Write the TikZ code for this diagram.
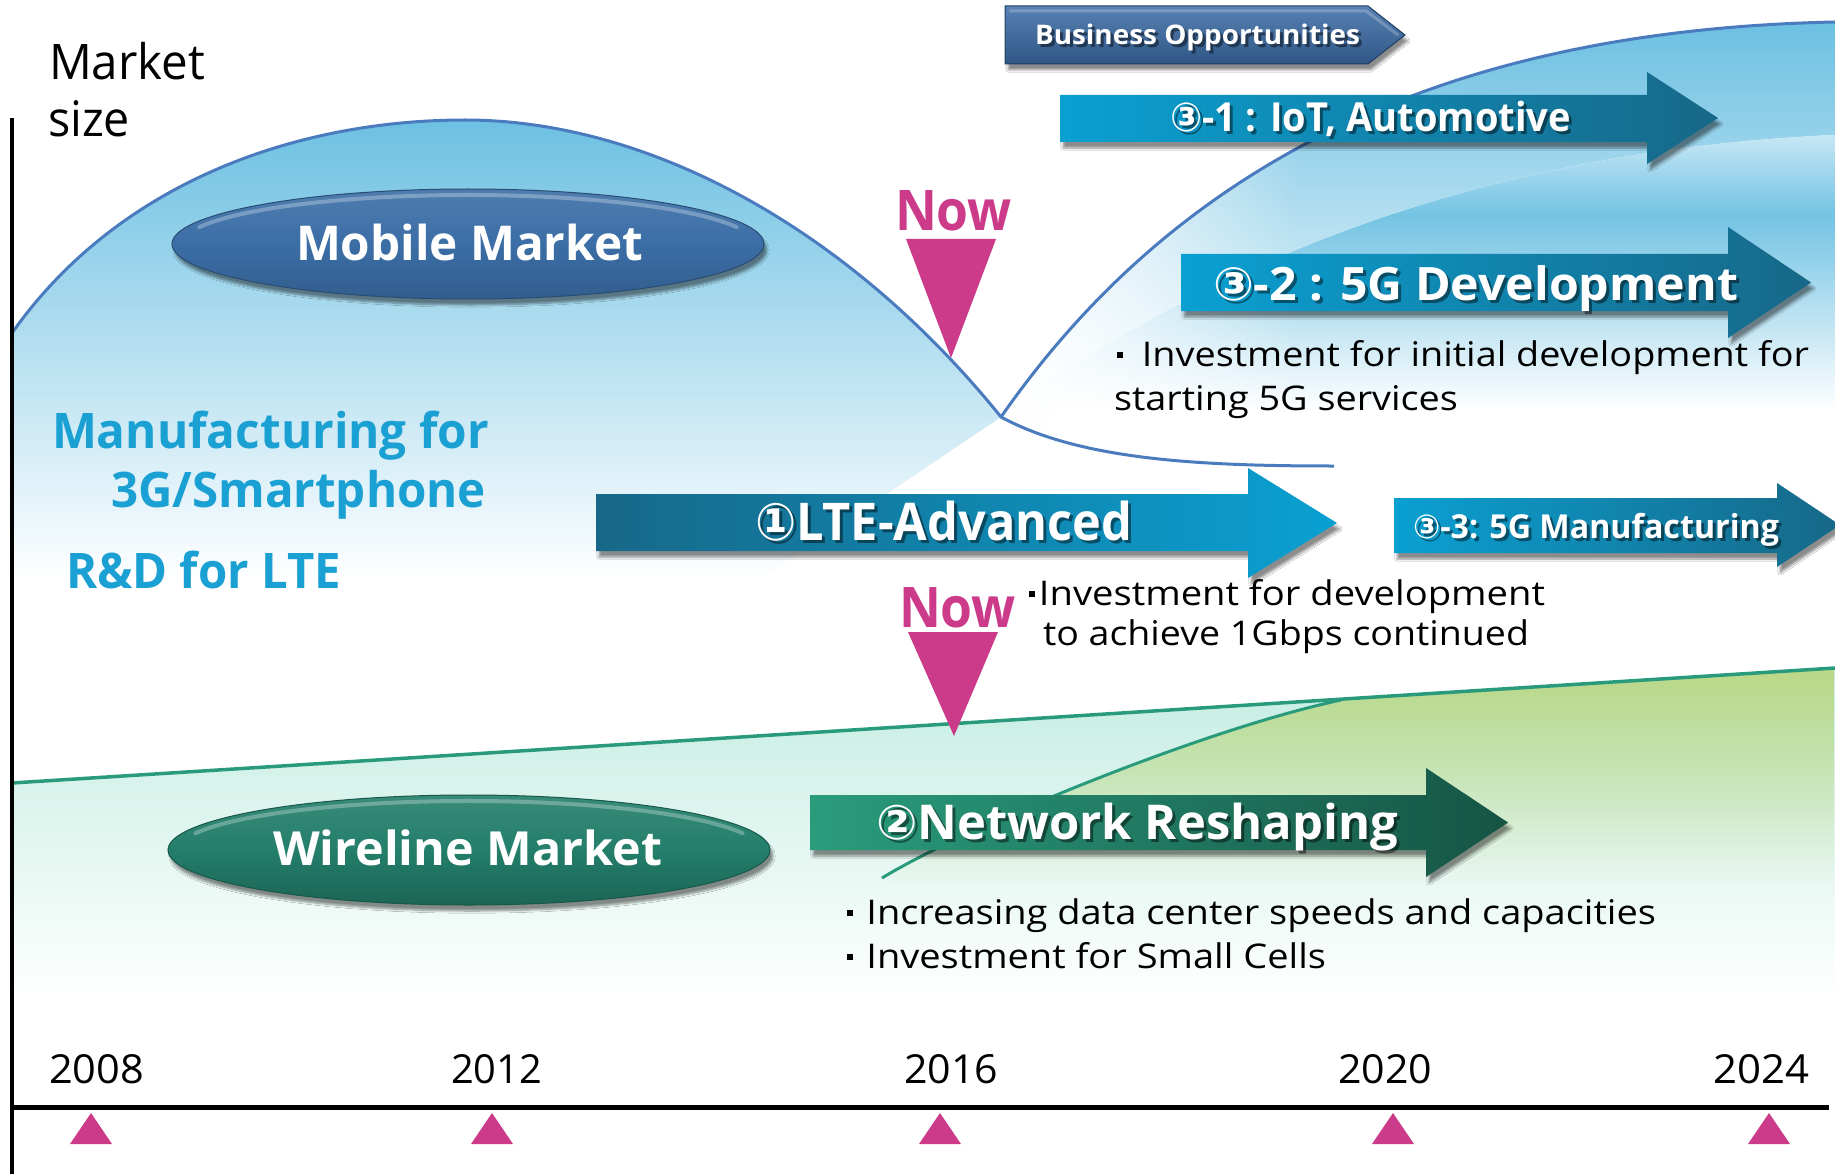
\documentclass[tikz,border=0pt]{standalone}
\usepackage{fontspec}
\usepackage{graphicx}
\setmainfont{Open Sans}
\newfontfamily\circfont{DejaVu Sans}
\usetikzlibrary{shapes.geometric,shadows.blur,fadings}

\definecolor{skyfill}{HTML}{6CC0E2}
\definecolor{curveblue}{HTML}{4A7BBE}
\definecolor{nowpink}{HTML}{CC3B8A}
\definecolor{labelblue}{HTML}{1BA0D3}
\definecolor{cyanL}{HTML}{0AA0D2}
\definecolor{cyanD}{HTML}{176888}
\definecolor{tealL}{HTML}{2A9C7C}
\definecolor{tealD}{HTML}{165444}
\definecolor{mint}{HTML}{C3EDE1}
\definecolor{lime}{HTML}{BAD886}
\definecolor{lineteal}{HTML}{2A9A7C}
\definecolor{mobileB}{HTML}{3B6EA6}
\definecolor{wireG}{HTML}{237E6A}
\definecolor{bizB}{HTML}{3A6BA6}

% fixed-width text, font size in pt
\newcommand\fitw[2]{\resizebox{#1pt}{\height}{#2}}
\newcommand\fsz[1]{\fontsize{#1}{#1}\selectfont}
\newcommand\cnum[1]{{\circfont #1}}
% small square bullet
\newcommand\bul{\rule[0.24em]{0.16em}{0.16em}}

\tikzset{
  txt/.style={inner sep=0pt, outer sep=0pt, anchor=base west},
  body/.style={txt, font=\fsz{34}},
  year/.style={txt, font=\fsz{40}},
  bluelabel/.style={txt, text=labelblue, font=\bfseries\fsz{49}},
  nowtxt/.style={txt, text=nowpink, font=\bfseries\fsz{56}},
  curve/.style={draw=curveblue, line width=3pt},
  softshadow/.style={blur shadow={shadow xshift=3pt, shadow yshift=-6pt,
      shadow blur steps=8, shadow opacity=45}},
  cyanright/.style={left color=cyanL, right color=cyanD},
  cyanleft/.style={left color=cyanD, right color=cyanL},
  tealright/.style={left color=tealL, right color=tealD},
  bevel/.style={white, opacity=.28, line width=4pt, line cap=round},
}

% block arrow: name, x-left, x-neck, x-tip, body top, body bottom, head top, head bottom, fill style
\newcommand\blockarrow[9]{%
  \path[#9, softshadow]
    (#2,#5) -- (#3,#5) -- (#3,#7) -- (#4,{(#7+#8)/2}) -- (#3,#8) -- (#3,#6) -- (#2,#6) -- cycle;
  \coordinate (#1) at ({(#2+#3)/2},{(#5+#6)/2});}

% white bold label with a dark offset copy: name, x, baseline, width, size, text
\newcommand\arrowlabel[6]{%
  \node[txt, text=black, opacity=.45, font=\bfseries\fsz{#5}] (#1-shade) at (#2+3,#3+3) {\fitw{#4}{#6}};
  \node[txt, text=white, font=\bfseries\fsz{#5}] (#1) at (#2,#3) {\fitw{#4}{#6}};}

\begin{document}
\begin{tikzpicture}[x=1pt,y=-1pt]
\useasboundingbox (0,0) rectangle (1835,1174);
\fill[white] (0,0) rectangle (1835,1174);

% ---------- mobile market area ----------
\begin{scope}
  \clip (12,333) .. controls (120,180) and (300,120) .. (465,120)
        .. controls (650,120) and (850,230) .. (1001,417) -- (640,660) -- (12,660) -- cycle;
  \shade[top color=skyfill, bottom color=white] (12,118) rectangle (1001,580);
\end{scope}

% ---------- 5G area ----------
\begin{scope}
  \clip (1001,417) .. controls (1180,160) and (1450,30) .. (1835,22) -- (1835,520) -- (1001,520) -- cycle;
  \shade[top color=skyfill, bottom color=white] (1001,22) rectangle (1835,430);
  \begin{scope}
    \clip (1050,380) .. controls (1250,250) and (1500,150) .. (1835,135) -- (1835,440) -- (1050,440) -- cycle;
    \fill[white] (1001,130) rectangle (1835,440);
    \shade[top color=skyfill!35, bottom color=skyfill!95] (1001,130) rectangle (1835,215);
    \shade[top color=skyfill!95, bottom color=white] (1001,215) rectangle (1835,410);
  \end{scope}
  \fill[white, path fading=east] (1001,22) rectangle (1300,520);
\end{scope}

% ---------- wireline area ----------
\begin{scope}
  \clip (12,783) -- (1835,668) -- (1835,1020) -- (12,1020) -- cycle;
  \shade[top color=mint, bottom color=white] (12,668) rectangle (1835,1000);
\end{scope}
\begin{scope}
  \clip (882,878) .. controls (960,830) and (1200,730) .. (1341,700) -- (1835,668) -- (1835,900) -- (882,900) -- cycle;
  \fill[lime, path fading=south] (882,668) rectangle (1835,885);
\end{scope}

% ---------- market curves ----------
\draw[lineteal, line width=3.5pt] (12,783) -- (1835,668);
\draw[lineteal, line width=3pt] (882,878) .. controls (960,830) and (1200,730) .. (1341,700);
\fill[nowpink] (906,239) -- (996,239) -- (951,358) -- cycle;
\draw[curve] (12,333) .. controls (120,180) and (300,120) .. (465,120)
      .. controls (650,120) and (850,230) .. (1001,417)
      .. controls (1080,460) and (1200,466) .. (1334,466);
\draw[curve] (1001,417) .. controls (1180,160) and (1450,30) .. (1835,22);

% ---------- axes ----------
\draw[line width=4.5pt] (12,118) -- (12,1174);
\draw[line width=5pt] (12,1107) -- (1829,1107);
\foreach \x in {91,492,940,1393,1769}
  \fill[nowpink] (\x,1113) -- (\x+21,1144) -- (\x-21,1144) -- cycle;

\node[year] (y2008) at (49,1083) {\fitw{95}{2008}};
\node[year] (y2012) at (451,1083) {\fitw{91}{2012}};
\node[year] (y2016) at (904,1083) {\fitw{94}{2016}};
\node[year] (y2020) at (1338,1083) {\fitw{94}{2020}};
\node[year] (y2024) at (1713,1083) {\fitw{96}{2024}};

\node[txt, font=\fsz{49}] (market) at (49,80) {\fitw{156}{Market}};
\node[txt, font=\fsz{49}] (size) at (48,137) {\fitw{82}{size}};

% ---------- market ellipses ----------
\node[ellipse, minimum width=592pt, minimum height=110pt, inner sep=0pt,
      top color=mobileB!90!white, bottom color=mobileB!85!black, middle color=mobileB,
      draw=mobileB!70!black, line width=1pt, softshadow] (mobile) at (468,244) {};
\draw[bevel] (468,244) ++(200:286 and 49) arc[start angle=200, end angle=340, x radius=286, y radius=49];
\node[txt, text=white, font=\bfseries\fsz{48}] (mobiletxt) at (296,261) {\fitw{347}{Mobile Market}};

\node[ellipse, minimum width=602pt, minimum height=110pt, inner sep=0pt,
      top color=wireG!90!white, bottom color=wireG!80!black, middle color=wireG,
      draw=wireG!70!black, line width=1pt, softshadow] (wireline) at (469,850) {};
\draw[bevel] (469,850) ++(200:291 and 49) arc[start angle=200, end angle=340, x radius=291, y radius=49];
\node[txt, text=white, font=\bfseries\fsz{47}] (wiretxt) at (273,865) {\fitw{389}{Wireline Market}};

% ---------- left labels ----------
\node[bluelabel] (manu) at (52,448) {\fitw{437}{Manufacturing for}};
\node[bluelabel] (smart) at (111,507) {\fitw{375}{3G/Smartphone}};
\node[bluelabel] (rnd) at (66,588) {\fitw{275}{R\&D for LTE}};

% ---------- business opportunities ----------
\path[softshadow, top color=bizB!85!white, middle color=bizB, bottom color=bizB!80!black,
      draw=bizB!60!black, line width=1pt]
  (1005,6) -- (1368,6) -- (1405,35) -- (1368,64) -- (1005,64) -- cycle;
\draw[bevel, opacity=.22, line width=3pt] (1010,11) -- (1366,11) -- (1398,35);
\arrowlabel{biz}{1035}{45}{325}{27}{Business Opportunities}

% ---------- block arrows ----------
\blockarrow{iot}{1060}{1647}{1718}{95}{142}{72}{164}{cyanright}
\arrowlabel{iottxt}{1170}{132}{401}{40}{\cnum{③}-1 : IoT, Automotive}

\blockarrow{dev}{1181}{1728}{1811}{254}{311}{227}{338}{cyanright}
\arrowlabel{devtxt}{1213}{300}{525}{46}{\cnum{③}-2 : 5G Development}

\blockarrow{lte}{596}{1248}{1337}{494}{551}{468}{578}{cyanleft}
\arrowlabel{ltetxt}{755}{540}{377}{52}{\cnum{①}LTE-Advanced}

\blockarrow{manuf}{1394}{1777}{1840}{498}{553}{483}{567}{cyanright}
\arrowlabel{manuftxt}{1413}{538}{366}{33}{\cnum{③}-3: 5G Manufacturing}

\blockarrow{net}{810}{1426}{1508}{795}{850}{768}{877}{tealright}
\arrowlabel{nettxt}{876}{839}{522}{48}{\cnum{②}Network Reshaping}

% ---------- notes ----------
\node[body] (n5a) at (1117,366) {\fitw{692}{\bul\hspace{0.5em}Investment for initial development for}};
\node[body] (n5b) at (1114,410) {\fitw{344}{starting 5G services}};
\node[body] (nla) at (1029,605) {\fitw{516}{\bul\hspace{0.1em}Investment for development}};
\node[body] (nlb) at (1043,645) {\fitw{486}{to achieve 1Gbps continued}};
\node[body] (nwa) at (847,924) {\fitw{809}{\bul\hspace{0.35em}Increasing data center speeds and capacities}};
\node[body] (nwb) at (847,968) {\fitw{479}{\bul\hspace{0.35em}Investment for Small Cells}};

% ---------- now markers ----------
\node[nowtxt] (now1) at (895,231) {\fitw{117}{Now}};
\node[nowtxt] (now2) at (899,627) {\fitw{117}{Now}};
\fill[nowpink] (908,632) -- (998,632) -- (954,736) -- cycle;
\end{tikzpicture}
\end{document}
